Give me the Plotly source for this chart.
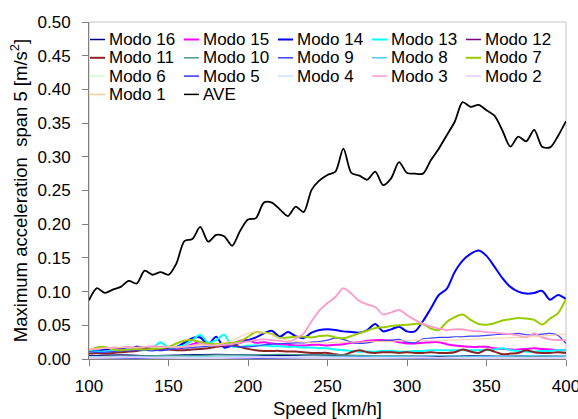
import plotly.graph_objects as go

# ---------------- data ----------------
speed = list(range(100, 401, 5))          # km/h, step 5
speed20 = list(range(100, 401, 20))       # km/h, step 20 (near-zero modes)

ave = [0.087, 0.105, 0.098, 0.103, 0.107, 0.116, 0.112, 0.131, 0.125, 0.129,
       0.125, 0.142, 0.175, 0.178, 0.196, 0.174, 0.184, 0.182, 0.168, 0.190,
       0.207, 0.209, 0.232, 0.232, 0.222, 0.212, 0.226, 0.218, 0.251, 0.265,
       0.273, 0.278, 0.312, 0.276, 0.272, 0.266, 0.278, 0.258, 0.268, 0.292,
       0.276, 0.275, 0.275, 0.295, 0.312, 0.332, 0.352, 0.381, 0.374, 0.377,
       0.369, 0.361, 0.339, 0.315, 0.330, 0.323, 0.340, 0.315, 0.314, 0.331,
       0.353]

modo14 = [0.013, 0.012, 0.014, 0.015, 0.016, 0.015, 0.018, 0.017, 0.014, 0.013,
          0.015, 0.018, 0.024, 0.031, 0.032, 0.022, 0.033, 0.017, 0.020, 0.024,
          0.028, 0.032, 0.038, 0.042, 0.033, 0.040, 0.034, 0.031, 0.039, 0.043,
          0.044, 0.043, 0.041, 0.040, 0.039, 0.043, 0.052, 0.041, 0.044, 0.048,
          0.041, 0.041, 0.056, 0.075, 0.095, 0.104, 0.129, 0.146, 0.156, 0.161,
          0.153, 0.137, 0.120, 0.107, 0.100, 0.097, 0.098, 0.101, 0.088, 0.095,
          0.089]

modo7 = [0.013, 0.017, 0.018, 0.014, 0.013, 0.014, 0.015, 0.014, 0.015, 0.016,
         0.018, 0.023, 0.027, 0.028, 0.025, 0.023, 0.022, 0.023, 0.024, 0.026,
         0.033, 0.040, 0.039, 0.037, 0.031, 0.032, 0.033, 0.033, 0.032, 0.034,
         0.035, 0.032, 0.031, 0.034, 0.038, 0.042, 0.046, 0.047, 0.049, 0.050,
         0.051, 0.052, 0.052, 0.045, 0.043, 0.055, 0.062, 0.066, 0.058, 0.052,
         0.051, 0.053, 0.057, 0.059, 0.061, 0.060, 0.058, 0.051, 0.060, 0.068,
         0.089]

modo3 = [0.014, 0.015, 0.016, 0.017, 0.017, 0.018, 0.017, 0.018, 0.019, 0.018,
         0.018, 0.017, 0.018, 0.020, 0.022, 0.021, 0.020, 0.021, 0.022, 0.024,
         0.026, 0.028, 0.029, 0.028, 0.027, 0.025, 0.030, 0.038, 0.056, 0.072,
         0.083, 0.092, 0.105, 0.097, 0.086, 0.081, 0.077, 0.066, 0.069, 0.073,
         0.065, 0.058, 0.052, 0.048, 0.045, 0.043, 0.044, 0.044, 0.042, 0.041,
         0.040, 0.039, 0.038, 0.037, 0.035, 0.032, 0.038, 0.032, 0.029, 0.028,
         0.028]

modo1 = [0.015, 0.015, 0.016, 0.016, 0.017, 0.016, 0.017, 0.018, 0.017, 0.017,
         0.018, 0.018, 0.019, 0.020, 0.021, 0.020, 0.021, 0.024, 0.028, 0.033,
         0.038, 0.040, 0.039, 0.036, 0.031, 0.028, 0.026, 0.025, 0.024, 0.024,
         0.024, 0.025, 0.025, 0.025, 0.025, 0.026, 0.026, 0.026, 0.026, 0.027,
         0.027, 0.028, 0.028, 0.027, 0.027, 0.028, 0.028, 0.029, 0.029, 0.030,
         0.030, 0.031, 0.031, 0.032, 0.032, 0.033, 0.033, 0.034, 0.035, 0.036,
         0.037]

modo9 = [0.011, 0.010, 0.010, 0.011, 0.012, 0.012, 0.013, 0.013, 0.012, 0.013,
         0.014, 0.015, 0.016, 0.017, 0.018, 0.019, 0.020, 0.020, 0.019, 0.018,
         0.018, 0.019, 0.021, 0.022, 0.023, 0.023, 0.024, 0.024, 0.025, 0.026,
         0.028, 0.031, 0.029, 0.025, 0.023, 0.024, 0.026, 0.027, 0.028, 0.029,
         0.025, 0.024, 0.030, 0.031, 0.032, 0.032, 0.033, 0.033, 0.034, 0.034,
         0.035, 0.036, 0.037, 0.037, 0.038, 0.036, 0.036, 0.037, 0.038, 0.035,
         0.023]

modo15 = [0.012, 0.013, 0.014, 0.013, 0.013, 0.014, 0.015, 0.016, 0.016, 0.015,
          0.015, 0.016, 0.018, 0.022, 0.025, 0.022, 0.020, 0.019, 0.022, 0.027,
          0.028, 0.024, 0.025, 0.023, 0.022, 0.021, 0.020, 0.020, 0.021, 0.021,
          0.020, 0.021, 0.022, 0.024, 0.025, 0.027, 0.028, 0.028, 0.027, 0.025,
          0.023, 0.023, 0.024, 0.025, 0.025, 0.022, 0.020, 0.019, 0.018, 0.018,
          0.018, 0.016, 0.015, 0.014, 0.014, 0.015, 0.016, 0.015, 0.014, 0.013,
          0.013]

modo13 = [0.012, 0.011, 0.011, 0.012, 0.012, 0.012, 0.013, 0.013, 0.016, 0.025,
          0.017, 0.018, 0.020, 0.028, 0.036, 0.024, 0.028, 0.036, 0.019, 0.018,
          0.020, 0.020, 0.020, 0.019, 0.019, 0.018, 0.018, 0.017, 0.017, 0.016,
          0.016, 0.014, 0.013, 0.012, 0.011, 0.011, 0.011, 0.012, 0.012, 0.011,
          0.011, 0.012, 0.012, 0.013, 0.013, 0.013, 0.013, 0.013, 0.013, 0.013,
          0.013, 0.014, 0.016, 0.013, 0.012, 0.011, 0.011, 0.012, 0.012, 0.013,
          0.013]

modo11 = [0.008, 0.009, 0.008, 0.009, 0.010, 0.011, 0.012, 0.014, 0.016, 0.015,
          0.014, 0.013, 0.013, 0.014, 0.015, 0.016, 0.018, 0.020, 0.021, 0.018,
          0.015, 0.013, 0.012, 0.012, 0.012, 0.011, 0.011, 0.010, 0.009, 0.009,
          0.009, 0.007, 0.006, 0.010, 0.013, 0.010, 0.009, 0.010, 0.010, 0.009,
          0.010, 0.009, 0.009, 0.010, 0.009, 0.009, 0.010, 0.014, 0.011, 0.009,
          0.014, 0.011, 0.007, 0.008, 0.009, 0.013, 0.010, 0.009, 0.009, 0.010,
          0.009]

modo16 = [0.005, 0.006, 0.005, 0.006, 0.007, 0.006, 0.005, 0.006,
          0.005, 0.004, 0.005, 0.004, 0.005, 0.004, 0.005, 0.004]
modo12 = [0.002, 0.002, 0.002, 0.002, 0.002, 0.002, 0.001, 0.001,
          0.001, 0.001, 0.001, 0.001, 0.001, 0.001, 0.001, 0.001]
modo10 = [0.004, 0.004, 0.005, 0.005, 0.006, 0.006, 0.007, 0.006,
          0.006, 0.005, 0.005, 0.005, 0.004, 0.004, 0.004, 0.004]
modo8 = [0.003, 0.003, 0.003, 0.003, 0.004, 0.004, 0.003, 0.003,
         0.004, 0.004, 0.004, 0.005, 0.004, 0.004, 0.005, 0.004]
modo6 = [0.002, 0.002, 0.002, 0.002, 0.003, 0.002, 0.002, 0.002,
         0.002, 0.002, 0.002, 0.002, 0.002, 0.002, 0.002, 0.002]
modo5 = [0.001, 0.001, 0.001, 0.001, 0.001, 0.001, 0.001, 0.001,
         0.001, 0.001, 0.001, 0.001, 0.001, 0.001, 0.001, 0.001]
modo4 = [0.003, 0.003, 0.002, 0.002, 0.002, 0.003, 0.003, 0.003,
         0.002, 0.002, 0.002, 0.002, 0.002, 0.002, 0.002, 0.002]
modo2 = [0.001, 0.002, 0.002, 0.001, 0.001, 0.002, 0.002, 0.001,
         0.001, 0.001, 0.002, 0.002, 0.001, 0.001, 0.001, 0.001]

x_ticks = [100, 150, 200, 250, 300, 350, 400]
y_ticks = [0.00, 0.05, 0.10, 0.15, 0.20, 0.25, 0.30, 0.35, 0.40, 0.45, 0.50]

# ---------------- styles ----------------
series = [
    ("Modo 16", speed20, modo16, "#000080", 1.2),
    ("Modo 15", speed, modo15, "#ff00ff", 2),
    ("Modo 14", speed, modo14, "#0000ff", 2),
    ("Modo 13", speed, modo13, "#00ffff", 2),
    ("Modo 12", speed20, modo12, "#800080", 1.2),
    ("Modo 11", speed, modo11, "#8b2323", 2),
    ("Modo 10", speed20, modo10, "#4c9a88", 1.2),
    ("Modo 9", speed, modo9, "#4040ff", 1.2),
    ("Modo 8", speed20, modo8, "#5ac8f0", 1.2),
    ("Modo 7", speed, modo7, "#99cc00", 2),
    ("Modo 6", speed20, modo6, "#ccffcc", 1.2),
    ("Modo 5", speed20, modo5, "#3333ff", 1.5),
    ("Modo 4", speed20, modo4, "#cce0ff", 1.5),
    ("Modo 3", speed, modo3, "#ff99cc", 1.8),
    ("Modo 2", speed20, modo2, "#e0ccff", 1.5),
    ("Modo 1", speed, modo1, "#ffcc99", 1),
    ("AVE", speed, ave, "#000000", 1.8),
]

FONT = "Arial, Liberation Sans, sans-serif"

fig = go.Figure()
for name, xs, ys, color, w in series:
    fig.add_trace(go.Scatter(x=xs, y=ys, name=name, mode="lines",
                             line=dict(color=color, width=w, shape="spline", smoothing=0.8),
                             showlegend=False))

# plot-area geometry in pixels
W, H = 578, 419
L, R, T, B = 89, 566, 22, 359
PW, PH = R - L, B - T

def px_x(p):
    return (p - L) / PW

def px_y(p):
    return (B - p) / PH

# custom legend (5 columns)
shapes = [dict(type="rect", xref="paper", yref="paper", x0=0, x1=1, y0=0, y1=1,
               line=dict(color="#c4c4c4", width=1), layer="below")]
annotations = []
for i, (name, xs, ys, color, w) in enumerate(series):
    r, c = divmod(i, 5)
    x0 = 90 + 94 * c
    yc = 39.5 + 18.3 * r
    shapes.append(dict(type="line", xref="paper", yref="paper",
                       x0=px_x(x0), x1=px_x(x0 + 15), y0=px_y(yc), y1=px_y(yc),
                       line=dict(color=color, width=1.5 if w < 2 else 2)))
    annotations.append(dict(xref="paper", yref="paper", x=px_x(x0 + 17), y=px_y(yc),
                            xanchor="left", yanchor="middle", showarrow=False,
                            text=name, font=dict(family=FONT, size=17, color="#000")))

fig.update_layout(
    width=W, height=H,
    margin=dict(l=L, r=W - R, t=T, b=H - B, pad=0, autoexpand=False),
    paper_bgcolor="white", plot_bgcolor="white",
    font=dict(family=FONT, size=17, color="#000"),
    shapes=shapes, annotations=annotations,
    showlegend=False,
    xaxis=dict(range=[100, 400], tickvals=x_ticks, ticks="outside", ticklen=6,
               tickcolor="#808080", showline=True, linecolor="#808080", linewidth=1,
               showgrid=False, zeroline=False, ticklabelstandoff=6,
               ticklabeloverflow="allow", automargin=False,
               tickfont=dict(size=17),
               title=dict(text="Speed [km/h]", font=dict(size=18.5), standoff=9)),
    yaxis=dict(range=[0, 0.5], tickvals=y_ticks, tickformat=".2f", ticks="outside",
               ticklen=6, tickcolor="#808080", showline=True, linecolor="#808080",
               linewidth=1, showgrid=False, zeroline=False, ticklabelstandoff=8,
               automargin=False,
               tickfont=dict(size=17),
               title=dict(text="Maximum acceleration&nbsp; span 5 [m/s<sup>2</sup>]",
                          font=dict(size=18.5), standoff=5)),
)

fig.write_html("out.html", config={"displayModeBar": False},
               post_script="document.body.style.margin='0px';document.body.style.overflow='hidden';")
